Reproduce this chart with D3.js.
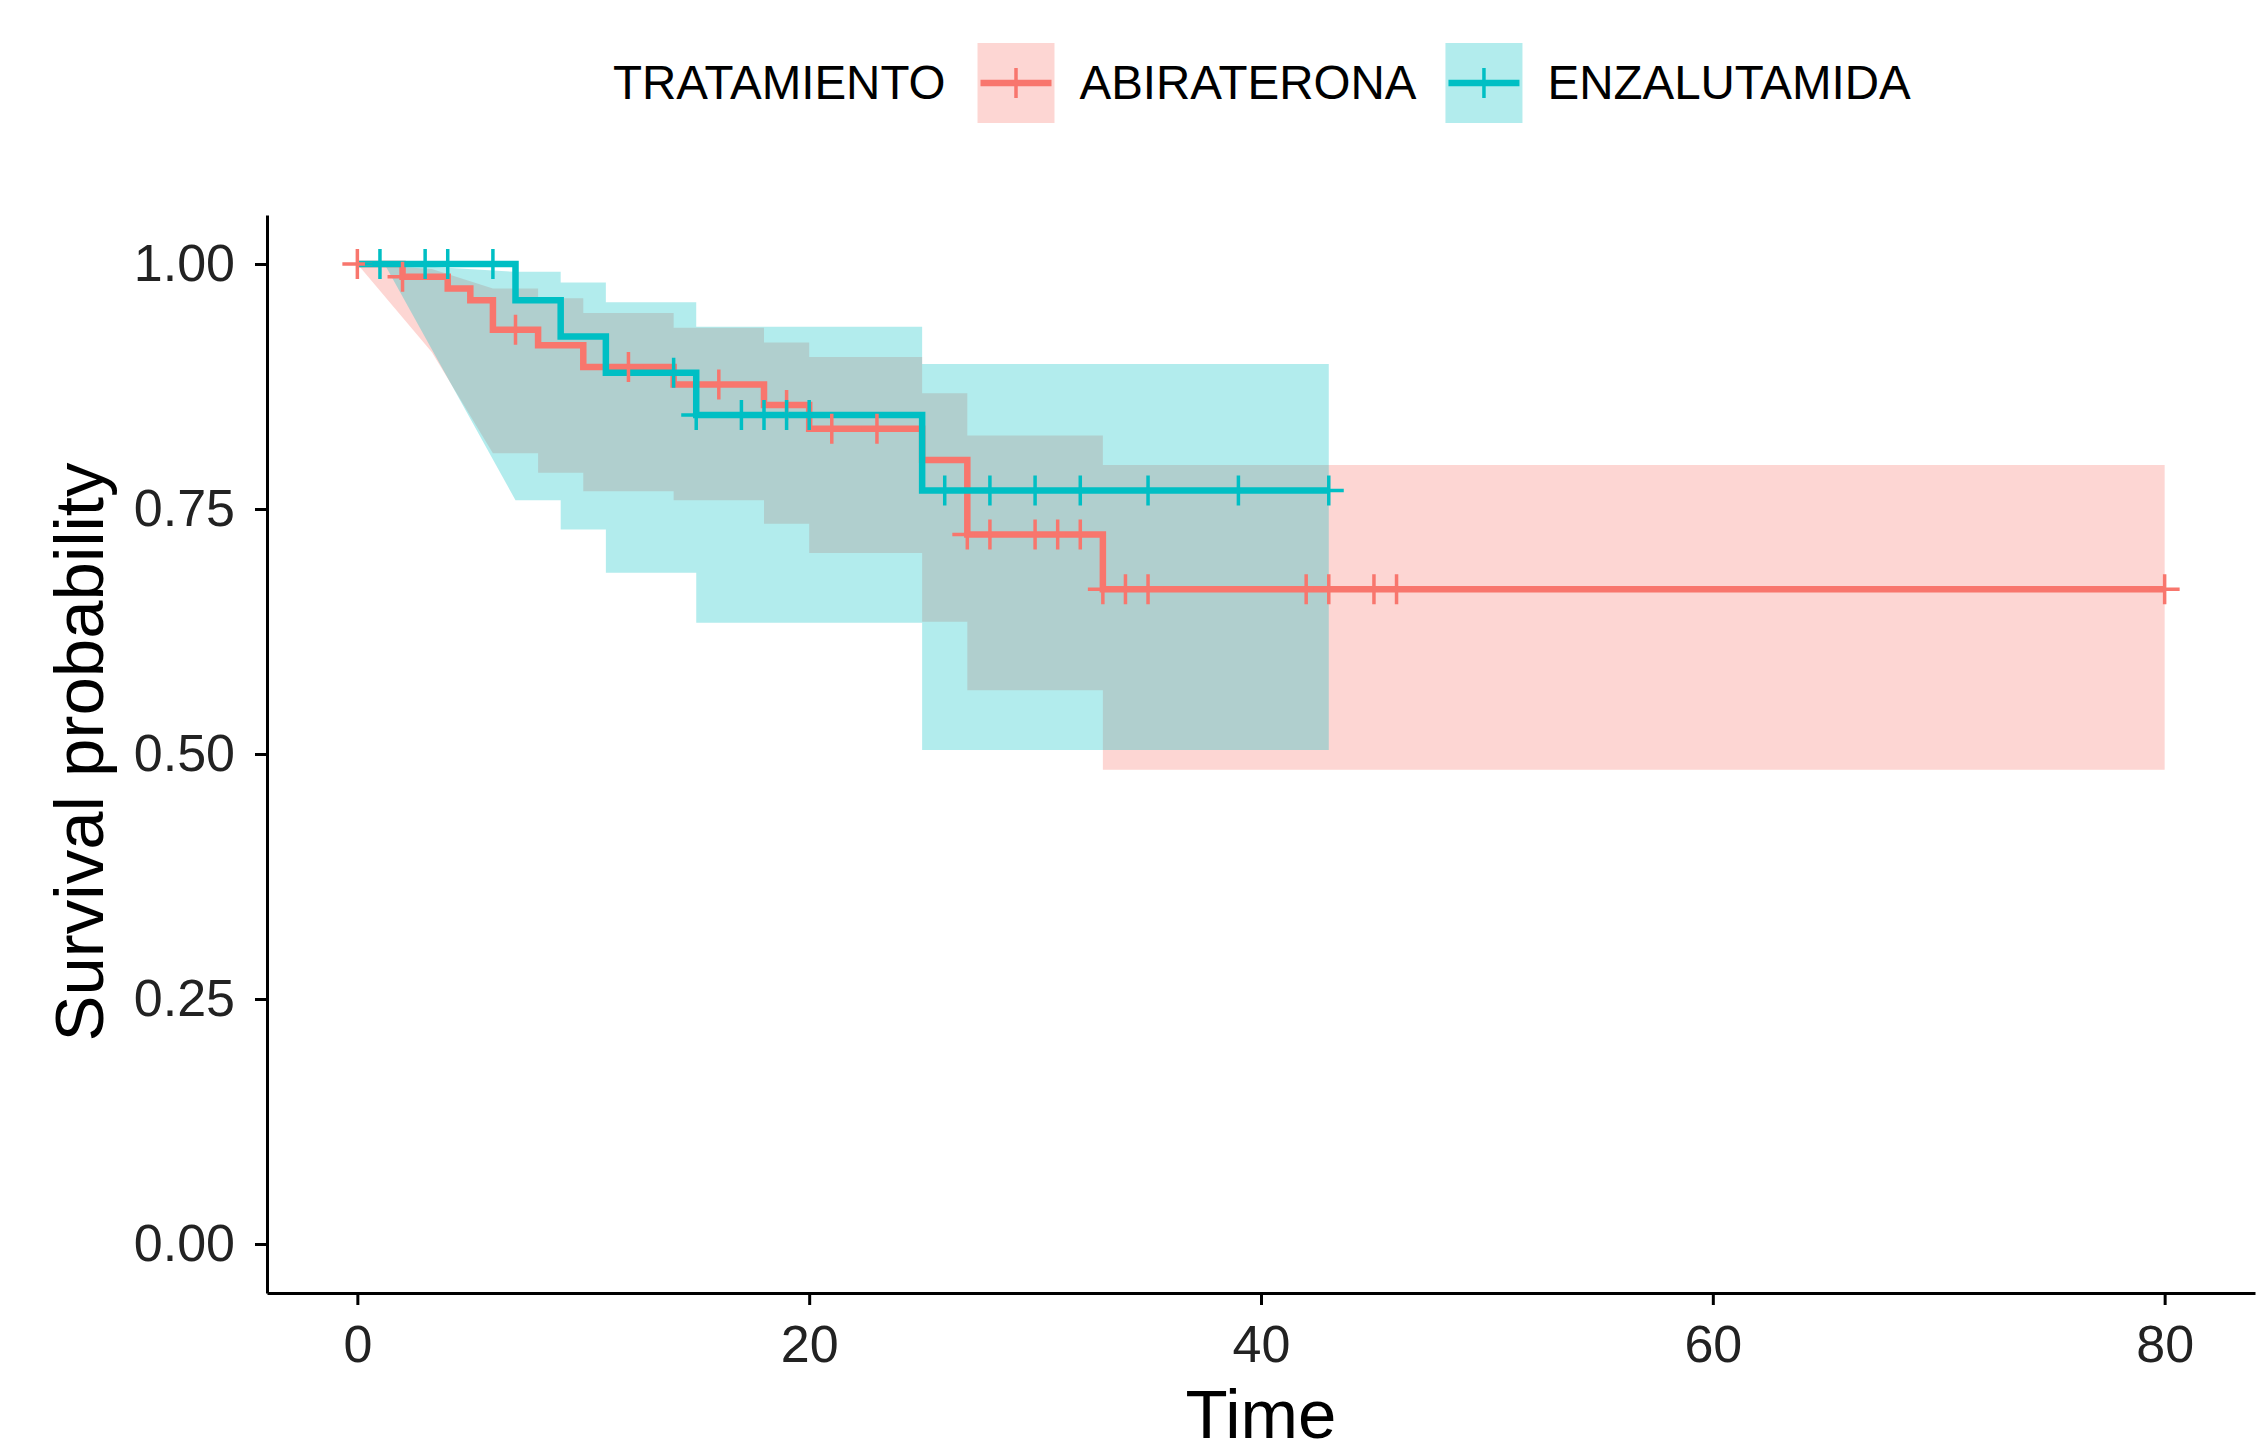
<!DOCTYPE html>
<html>
<head>
<meta charset="utf-8">
<script src="https://cdn.jsdelivr.net/npm/d3@7"></script>
<style>
  body { margin: 0; background: #fff; }
  text { font-family: "Liberation Sans", Arial, Helvetica, sans-serif; }
</style>
</head>
<body>
<script>

// groups
var groups = ["ABIRATERONA", "ENZALUTAMIDA"];
var colors = ["#F8766D", "#00BFC4"];

// Kaplan-Meier steps, ABIRATERONA
var abiTime = [0, 2, 4, 5, 6, 8, 10, 14, 18, 20, 25, 27, 33, 80];
var abiSurv = [1, 0.987, 0.975, 0.963, 0.933, 0.917, 0.895, 0.877, 0.856, 0.832, 0.800, 0.724, 0.668, 0.668];
var abiCensor = [0, 2, 7, 12, 16, 19, 21, 23, 27, 28, 30, 31, 32, 33, 34, 35, 42, 43, 45, 46, 80];
// confidence band: straight lead-in points, then steps
var abiLeadTime = [0, 3.3];
var abiLeadLower = [1, 0.91];
var abiLeadUpper = [1, 0.995];
var abiCiTime = [6, 8, 10, 14, 18, 20, 25, 27, 33];
var abiLower = [0.807, 0.787, 0.768, 0.759, 0.735, 0.705, 0.635, 0.565, 0.484];
var abiUpper = [0.975, 0.965, 0.95, 0.935, 0.92, 0.905, 0.868, 0.825, 0.795];
var abiCiEnd = 80;

// Kaplan-Meier steps, ENZALUTAMIDA
var enzTime = [0, 7, 9, 11, 15, 25, 43];
var enzSurv = [1, 0.963, 0.926, 0.889, 0.846, 0.769, 0.769];
var enzCensor = [1, 3, 4, 6, 14, 15, 17, 18, 19, 20, 26, 28, 30, 32, 35, 39, 43];
var enzLeadTime = [1.2];
var enzLeadLower = [1];
var enzLeadUpper = [1];
var enzCiTime = [7, 9, 11, 15, 25];
var enzLower = [0.759, 0.729, 0.685, 0.634, 0.504];
var enzUpper = [0.992, 0.981, 0.961, 0.936, 0.898];
var enzCiEnd = 43;

// axis ticks
var xTicks = [0, 20, 40, 60, 80];
var yTicks = [0, 0.25, 0.5, 0.75, 1];

var width = 2263,
    height = 1440;

var x = d3.scaleLinear().domain([-4, 84]).range([267, 2255]);
var y = d3.scaleLinear().domain([-0.05, 1.05]).range([1293, 215]);

var svg = d3.select("body").append("svg")
    .attr("width", width)
    .attr("height", height);

var series = [
  {name: groups[0], color: colors[0], time: abiTime, surv: abiSurv, censor: abiCensor,
   leadTime: abiLeadTime, leadLower: abiLeadLower, leadUpper: abiLeadUpper,
   ciTime: abiCiTime, lower: abiLower, upper: abiUpper, ciEnd: abiCiEnd},
  {name: groups[1], color: colors[1], time: enzTime, surv: enzSurv, censor: enzCensor,
   leadTime: enzLeadTime, leadLower: enzLeadLower, leadUpper: enzLeadUpper,
   ciTime: enzCiTime, lower: enzLower, upper: enzUpper, ciEnd: enzCiEnd}
];

// value of the step curve in effect at time t
function survAt(s, t) {
  var v = s.surv[0];
  for (var i = 0; i < s.time.length; i++) {
    if (s.time[i] <= t) v = s.surv[i];
  }
  return v;
}

// ribbon outline: straight lead-in, then steps
function ribbonPoints(s) {
  var pts = s.leadTime.map(function(t, i) {
    return {t: t, lo: s.leadLower[i], hi: s.leadUpper[i]};
  });
  s.ciTime.forEach(function(t, i) {
    if (i > 0) pts.push({t: t, lo: s.lower[i - 1], hi: s.upper[i - 1]});
    pts.push({t: t, lo: s.lower[i], hi: s.upper[i]});
  });
  var n = s.ciTime.length - 1;
  pts.push({t: s.ciEnd, lo: s.lower[n], hi: s.upper[n]});
  return pts;
}

var area = d3.area()
    .x(function(d) { return x(d.t); })
    .y0(function(d) { return y(d.lo); })
    .y1(function(d) { return y(d.hi); });

var line = d3.line()
    .curve(d3.curveStepAfter)
    .x(function(d) { return x(d[0]); })
    .y(function(d) { return y(d[1]); });

var cross = "M-15,0H15M0,-15V15";

// confidence ribbons
svg.append("g").selectAll("path")
    .data(series)
  .enter().append("path")
    .attr("d", function(d) { return area(ribbonPoints(d)); })
    .attr("fill", function(d) { return d.color; })
    .attr("fill-opacity", 0.3);

// survival curves
svg.append("g").selectAll("path")
    .data(series)
  .enter().append("path")
    .attr("d", function(d) { return line(d.time.map(function(t, i) { return [t, d.surv[i]]; })); })
    .attr("fill", "none")
    .attr("stroke", function(d) { return d.color; })
    .attr("stroke-width", 6.5);

// censor marks
series.forEach(function(s) {
  svg.append("g").selectAll("path")
      .data(s.censor)
    .enter().append("path")
      .attr("transform", function(t) { return "translate(" + x(t) + "," + y(survAt(s, t)) + ")"; })
      .attr("d", cross)
      .attr("stroke", s.color)
      .attr("stroke-width", 3.5);
});

// axes
var xAxis = svg.append("g")
    .attr("transform", "translate(0,1293)")
    .call(d3.axisBottom(x).tickValues(xTicks).tickSize(12).tickSizeOuter(0).tickPadding(20));

var yAxis = svg.append("g")
    .attr("transform", "translate(267,0)")
    .call(d3.axisLeft(y).tickValues(yTicks).tickFormat(d3.format(".2f"))
      .tickSize(12).tickSizeOuter(0).tickPadding(20));

[xAxis, yAxis].forEach(function(a) {
  a.attr("font-family", null).attr("font-size", null);
  a.select(".domain").attr("stroke", "#000").attr("stroke-width", 3);
  a.selectAll(".tick line").attr("stroke", "#000").attr("stroke-width", 3);
  a.selectAll(".tick text")
      .attr("fill", "#222")
      .style("font-size", "52px");
});

svg.append("text")
    .attr("x", 1261)
    .attr("y", 1438)
    .attr("text-anchor", "middle")
    .style("font-size", "69px")
    .attr("fill", "#000")
    .text("Time");

svg.append("text")
    .attr("transform", "translate(103,752) rotate(-90)")
    .attr("text-anchor", "middle")
    .style("font-size", "69px")
    .attr("fill", "#000")
    .text("Survival probability");

// legend
var legend = svg.append("g");
var cursor = 613;

var title = legend.append("text")
    .attr("x", cursor)
    .attr("y", 99)
    .style("font-size", "47.5px")
    .attr("fill", "#000")
    .text("TRATAMIENTO");
cursor += title.node().getComputedTextLength() + 32;

series.forEach(function(s) {
  var k = legend.append("g").attr("transform", "translate(" + cursor + ",43)");
  k.append("rect")
      .attr("width", 77)
      .attr("height", 80)
      .attr("fill", s.color)
      .attr("fill-opacity", 0.3);
  k.append("line")
      .attr("x1", 3).attr("x2", 74)
      .attr("y1", 40).attr("y2", 40)
      .attr("stroke", s.color)
      .attr("stroke-width", 6.5);
  k.append("path")
      .attr("transform", "translate(38.5,40)")
      .attr("d", cross)
      .attr("stroke", s.color)
      .attr("stroke-width", 3.5);
  cursor += 77 + 25;
  var lbl = legend.append("text")
      .attr("x", cursor)
      .attr("y", 99)
      .style("font-size", "47.5px")
      .attr("fill", "#000")
      .text(s.name);
  cursor += lbl.node().getComputedTextLength() + 29;
});

</script>
</body>
</html>
